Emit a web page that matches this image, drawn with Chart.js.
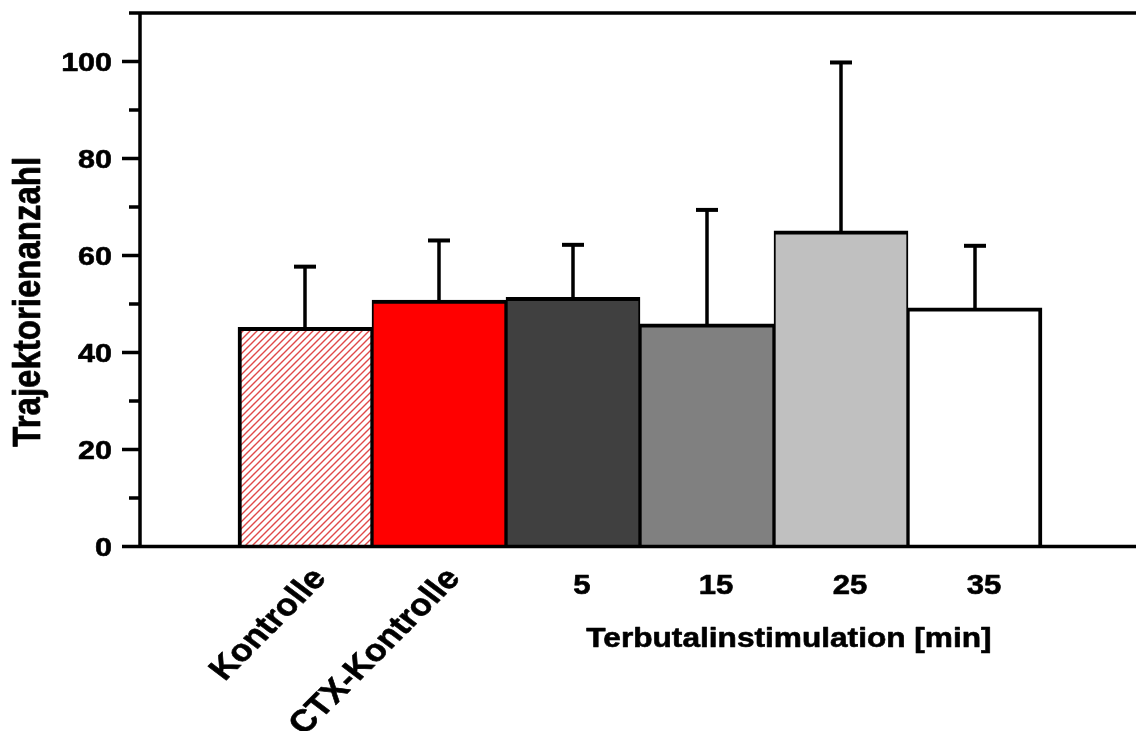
<!DOCTYPE html>
<html>
<head>
<meta charset="utf-8">
<script src="https://cdn.jsdelivr.net/npm/chart.js@4.4.1/dist/chart.umd.min.js"></script>
<style>
  html, body { margin: 0; padding: 0; background: #fff; overflow: hidden; }
  #wrap { width: 1136px; height: 731px; position: relative; }
</style>
</head>
<body>
<div id="wrap"><canvas id="c" width="1136" height="731"></canvas></div>
<script>
// Group labels along the x axis (the first two are drawn slanted)
const categories = ['Kontrolle', 'CTX-Kontrolle', '5', '15', '25', '35'];
const slanted = [true, true, false, false, false, false];
// Mean trajectory count per group and its upper error (SD)
const means  = [45.2, 50.8, 51.4, 45.9, 65.1, 49.2];
const errors = [12.5, 12.3, 10.8, 23.5, 34.7, 12.8];
// Y axis ticks
const yMajorTicks = [0, 20, 40, 60, 80, 100];
const yMinorTicks = [10, 30, 50, 70, 90, 110];
const xTitle = 'Terbutalinstimulation [min]';
const yTitle = 'Trajektorienanzahl';

const FONT = '"Liberation Sans", Arial, sans-serif';
const LW = 3.5;            // axis line width

const canvas = document.getElementById('c');
const ctx2d = canvas.getContext('2d');

function makeHatch() {
  const s = 7;
  const t = document.createElement('canvas');
  t.width = s; t.height = s;
  const g = t.getContext('2d');
  g.fillStyle = '#ffffff';
  g.fillRect(0, 0, s, s);
  g.strokeStyle = '#e04848';
  g.lineWidth = 1.4;
  g.beginPath();
  g.moveTo(-1, s + 1); g.lineTo(s + 1, -1);
  g.moveTo(-1, 1); g.lineTo(1, -1);
  g.moveTo(s - 1, s + 1); g.lineTo(s + 1, s - 1);
  g.stroke();
  return ctx2d.createPattern(t, 'repeat');
}

const fills = [makeHatch(), '#ff0000', '#404040', '#808080', '#c0c0c0', '#ffffff'];

// bold lettering, widened horizontally by sx
function text(ctx, str, x, y, size, sx, align, baseline, angle) {
  ctx.save();
  ctx.translate(x, y);
  ctx.scale(sx, 1);
  if (angle) ctx.rotate(angle);
  ctx.font = `bold ${size}px ${FONT}`;
  ctx.textAlign = align;
  ctx.textBaseline = baseline;
  ctx.fillStyle = '#000';
  ctx.strokeStyle = '#000';
  ctx.lineWidth = 0.6;
  ctx.lineJoin = 'round';
  ctx.fillText(str, 0, 0);
  ctx.strokeText(str, 0, 0);
  ctx.restore();
}

const errorBars = {
  id: 'errorBars',
  afterDatasetsDraw(chart) {
    const { ctx, scales: { x, y } } = chart;
    ctx.save();
    ctx.strokeStyle = '#000';
    ctx.lineCap = 'butt';
    means.forEach((m, i) => {
      const px = x.getPixelForValue(i);
      const y0 = y.getPixelForValue(m) + 2;
      const y1 = y.getPixelForValue(m + errors[i]);
      ctx.lineWidth = 3.5;
      ctx.beginPath();
      ctx.moveTo(px, y0);
      ctx.lineTo(px, y1);
      ctx.stroke();
      ctx.lineWidth = 4;
      ctx.beginPath();
      ctx.moveTo(px - 11, y1);
      ctx.lineTo(px + 11, y1);
      ctx.stroke();
    });
    ctx.restore();
  }
};

const axes = {
  id: 'axes',
  afterDraw(chart) {
    const { ctx, chartArea: a, scales: { x, y } } = chart;
    ctx.save();
    ctx.strokeStyle = '#000';
    ctx.lineWidth = LW;
    ctx.lineCap = 'butt';
    ctx.beginPath();
    // frame top, left axis, bottom axis
    ctx.moveTo(a.left, a.top); ctx.lineTo(a.right, a.top);
    ctx.moveTo(a.left, a.top - LW / 2); ctx.lineTo(a.left, a.bottom + LW / 2);
    ctx.moveTo(a.left, a.bottom); ctx.lineTo(a.right, a.bottom);
    yMajorTicks.forEach(v => {
      const py = y.getPixelForValue(v);
      ctx.moveTo(a.left - 18, py); ctx.lineTo(a.left, py);
    });
    yMinorTicks.forEach(v => {
      const py = y.getPixelForValue(v);
      ctx.moveTo(a.left - 11, py); ctx.lineTo(a.left, py);
    });
    ctx.stroke();
    ctx.restore();

    yMajorTicks.forEach(v => {
      const py = y.getPixelForValue(v);
      text(ctx, String(v), a.left - 28, py + 9.5, 26.5, 1.15, 'right', 'alphabetic');
    });

    categories.forEach((c, i) => {
      const px = x.getPixelForValue(i);
      if (slanted[i]) {
        text(ctx, c, px + 15, a.bottom + 27, 31, 1.15, 'right', 'middle', -49 * Math.PI / 180);
      } else {
        text(ctx, c, px + 9, a.bottom + 47, 27, 1.15, 'center', 'alphabetic');
      }
    });

    text(ctx, xTitle, 789, a.bottom + 100, 27.5, 1.15, 'center', 'alphabetic');
    text(ctx, yTitle, 40, (a.top + a.bottom) / 2 + 22, 33, 1.2, 'center', 'alphabetic', -Math.PI / 2);
  }
};

new Chart(canvas, {
  type: 'bar',
  data: {
    datasets: [{
      data: means.map((v, i) => ({ x: i, y: v })),
      backgroundColor: fills,
      borderColor: '#000',
      borderWidth: c => ({
        top: 4,
        bottom: 0,
        left: c.dataIndex === 0 ? 4 : 2,
        right: c.dataIndex === means.length - 1 ? 4 : 2
      }),
      borderSkipped: false,
      barPercentage: 1,
      categoryPercentage: 1
    }]
  },
  options: {
    responsive: false,
    animation: false,
    devicePixelRatio: 1,
    layout: { padding: { left: 140, top: 13, right: 0, bottom: 184.5 } },
    plugins: { legend: { display: false }, tooltip: { enabled: false } },
    scales: {
      x: {
        type: 'linear', display: false, offset: false, min: -1.2313, max: 6.2015,
        grid: { offset: false },
        ticks: { stepSize: 1, includeBounds: false }
      },
      y: { display: false, min: 0, max: 110 }
    }
  },
  plugins: [errorBars, axes]
});
</script>
</body>
</html>
